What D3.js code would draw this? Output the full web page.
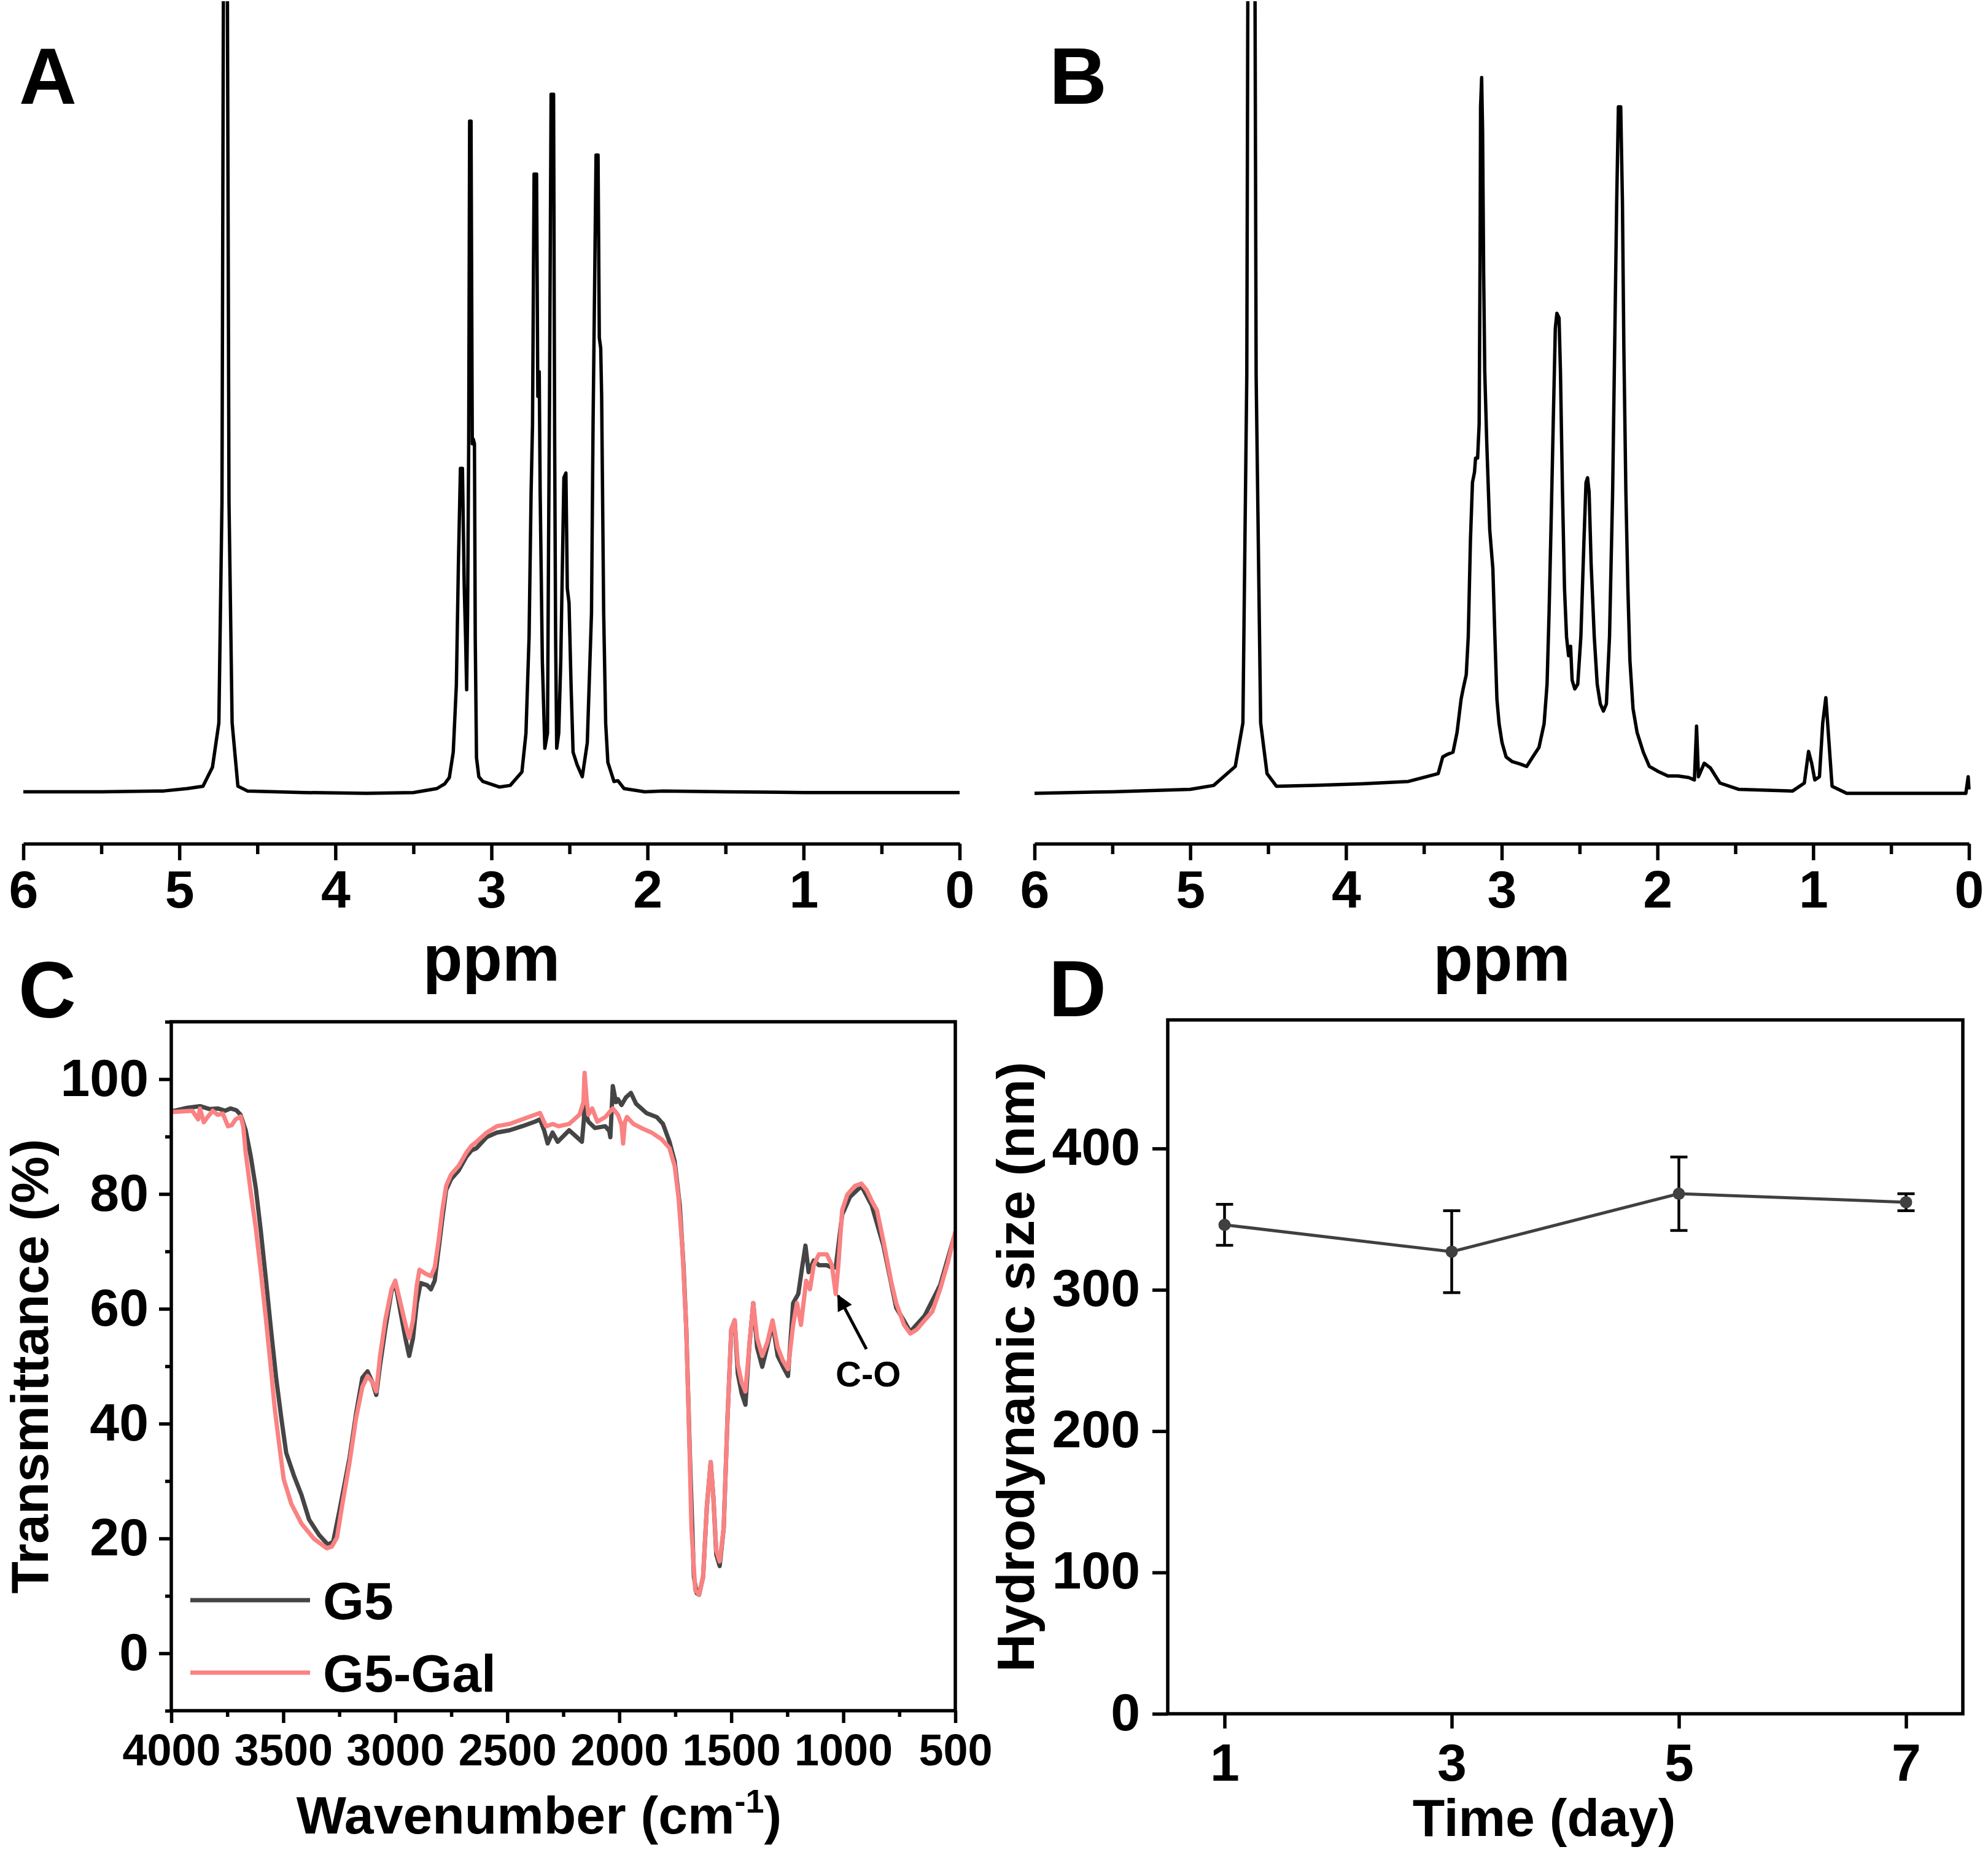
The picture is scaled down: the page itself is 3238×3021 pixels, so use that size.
<!DOCTYPE html>
<html>
<head>
<meta charset="utf-8">
<script src="https://cdn.jsdelivr.net/npm/d3@7"></script>
<style>
  body { margin: 0; background: #fff; }
  svg { display: block; font-family: "Liberation Sans", Arial, sans-serif; font-weight: bold; }
</style>
</head>
<body>
<div id="chart"></div>
<script>
// ---- data ----
const ppmTicks = [6, 5, 4, 3, 2, 1, 0];
const ppmMinor = [5.5, 4.5, 3.5, 2.5, 1.5, 0.5];

// panel A: 1H NMR trace [ppm, relative intensity]
const nmrA = [
  [6.0, 0.2], [5.5, 0.2], [5.1, 0.3], [4.95, 0.6], [4.849, 0.9], [4.788, 3.3], [4.747, 8.9],
  [4.727, 36.8], [4.711, 150], [4.700, 150], [4.682, 36.8], [4.662, 8.9], [4.625, 0.9],
  [4.564, 0.3], [4.2, 0.1], [3.8, 0.0], [3.5, 0.1], [3.35, 0.6], [3.30, 1.2], [3.27, 2.0],
  [3.245, 5.2], [3.225, 13.7], [3.212, 28.9], [3.199, 41.1], [3.186, 41.1], [3.175, 26.5],
  [3.166, 19.7], [3.159, 13.1], [3.153, 22.8], [3.146, 44.2], [3.140, 85.0], [3.131, 85.0],
  [3.123, 44.2], [3.117, 44.8], [3.109, 44.2], [3.104, 19.7], [3.096, 4.5], [3.081, 2.1],
  [3.055, 1.5], [2.95, 0.8], [2.88, 1.0], [2.805, 2.7], [2.779, 7.6], [2.759, 19.8],
  [2.746, 38.1], [2.737, 46.6], [2.727, 78.3], [2.711, 78.3], [2.703, 50.2], [2.694, 53.3],
  [2.688, 38.1], [2.674, 16.7], [2.658, 5.7], [2.641, 7.6], [2.634, 32.0], [2.628, 50.2],
  [2.618, 88.4], [2.602, 88.4], [2.595, 44.2], [2.589, 19.8], [2.582, 5.7], [2.569, 7.6],
  [2.556, 16.7], [2.547, 27.1], [2.536, 39.9], [2.523, 40.5], [2.514, 25.9], [2.503, 24.1],
  [2.490, 13.7], [2.477, 5.2], [2.451, 3.6], [2.418, 2.1], [2.386, 6.4], [2.359, 22.8],
  [2.349, 46.6], [2.340, 62.5], [2.330, 80.7], [2.317, 80.7], [2.309, 57.6], [2.300, 56.3],
  [2.294, 50.2], [2.281, 22.8], [2.268, 8.8], [2.254, 3.9], [2.215, 1.5], [2.19, 1.6],
  [2.150, 0.6], [2.018, 0.2], [1.9, 0.3], [1.5, 0.2], [1.0, 0.1], [0.5, 0.1], [0.0, 0.1]
];

// panel B: 1H NMR trace [ppm, relative intensity]
const nmrB = [
  [6.0, 0.0], [5.5, 0.2], [5.0, 0.5], [4.85, 1.0], [4.711, 3.4], [4.662, 8.9], [4.637, 52.9],
  [4.625, 140], [4.590, 140], [4.577, 52.9], [4.548, 8.9], [4.507, 2.5], [4.447, 0.9],
  [4.2, 1.0], [3.9, 1.2], [3.6, 1.5], [3.408, 2.5], [3.379, 4.6], [3.352, 4.9], [3.313, 5.2],
  [3.287, 7.7], [3.261, 11.9], [3.248, 13.2], [3.228, 15.0], [3.215, 19.8], [3.201, 32.0],
  [3.188, 39.3], [3.175, 40.6], [3.168, 42.4], [3.155, 42.4], [3.145, 46.7], [3.139, 68.6],
  [3.136, 86.8], [3.129, 90.5], [3.123, 83.8], [3.116, 65.5], [3.109, 53.3], [3.096, 44.2],
  [3.077, 33.3], [3.057, 28.4], [3.044, 19.8], [3.031, 11.9], [3.017, 8.8], [2.998, 6.4],
  [2.972, 4.6], [2.932, 4.0], [2.880, 3.7], [2.840, 3.4], [2.801, 4.6], [2.761, 5.8],
  [2.728, 8.8], [2.709, 13.8], [2.696, 22.9], [2.682, 35.1], [2.669, 47.2], [2.656, 58.8],
  [2.646, 60.7], [2.632, 60.1], [2.623, 53.3], [2.610, 38.1], [2.597, 25.9], [2.584, 19.8],
  [2.571, 17.4], [2.558, 18.6], [2.548, 14.3], [2.531, 13.2], [2.512, 13.8], [2.492, 19.8],
  [2.472, 32.0], [2.459, 39.3], [2.449, 39.9], [2.439, 38.1], [2.426, 29.0], [2.406, 19.8],
  [2.387, 13.8], [2.367, 11.3], [2.347, 10.4], [2.328, 11.3], [2.308, 19.8], [2.288, 38.1],
  [2.275, 56.4], [2.262, 74.7], [2.251, 86.8], [2.236, 86.8], [2.225, 74.7], [2.216, 56.4],
  [2.203, 38.1], [2.190, 25.9], [2.177, 16.8], [2.157, 10.7], [2.131, 7.7], [2.091, 5.2],
  [2.052, 3.4], [1.999, 2.8], [1.933, 2.2], [1.868, 2.2], [1.80, 2.0], [1.763, 1.7],
  [1.749, 8.5], [1.737, 2.1], [1.700, 3.8], [1.660, 3.2], [1.599, 1.3], [1.477, 0.5],
  [1.132, 0.3], [1.057, 1.3], [1.030, 5.3], [1.010, 3.8], [0.990, 1.7], [0.960, 2.1],
  [0.939, 8.9], [0.919, 12.1], [0.899, 6.5], [0.879, 0.9], [0.785, 0.0], [0.3, 0.0],
  [0.02, 0.0], [0.005, 2.1], [0.0, 0.5]
];

// panel C: FTIR [wavenumber, transmittance %]
const wnTicks = [4000, 3500, 3000, 2500, 2000, 1500, 1000, 500];
const wnMinor = [3750, 3250, 2750, 2250, 1750, 1250, 750];
const transTicks = [0, 20, 40, 60, 80, 100];
const transMinor = [-10, 10, 30, 50, 70, 90, 110];

const irG5 = [
  [4000, 94.5], [3985, 94.5], [3930, 95.0], [3872, 95.3], [3830, 94.8], [3793, 94.9],
  [3760, 94.5], [3736, 94.9], [3710, 94.6], [3691, 93.8], [3668, 91.1], [3645, 86.5],
  [3623, 81.1], [3600, 73.4], [3577, 64.9], [3555, 56.4], [3532, 48.0], [3509, 41.0],
  [3487, 34.9], [3453, 31.0], [3419, 27.6], [3385, 23.3], [3340, 20.6], [3300, 18.9],
  [3277, 19.5], [3249, 24.9], [3204, 34.1], [3175, 41.8], [3147, 48.0], [3124, 49.1],
  [3102, 47.2], [3085, 45.0], [3068, 50.2], [3045, 56.4], [3017, 63.0], [3000, 64.5],
  [2977, 59.5], [2955, 54.9], [2938, 51.8], [2921, 54.9], [2904, 61.0], [2887, 64.5],
  [2858, 64.1], [2841, 63.4], [2824, 64.9], [2807, 70.3], [2790, 75.7], [2773, 80.7],
  [2751, 82.6], [2717, 84.1], [2683, 86.5], [2660, 87.6], [2637, 88.0], [2592, 89.9],
  [2547, 90.7], [2490, 91.1], [2434, 91.8], [2377, 92.6], [2354, 93.0], [2335, 91.0],
  [2320, 88.8], [2298, 90.7], [2275, 89.1], [2224, 91.1], [2167, 89.1], [2158, 93.0],
  [2155, 100.3], [2150, 94.0], [2138, 92.6], [2109, 91.5], [2063, 91.8], [2045, 91.0],
  [2040, 89.9], [2029, 98.8], [2015, 96.0], [2006, 96.5], [1990, 95.5], [1971, 96.8],
  [1948, 97.6], [1925, 95.7], [1879, 94.1], [1833, 93.4], [1805, 92.2], [1776, 89.1],
  [1753, 85.7], [1730, 78.0], [1713, 67.2], [1701, 56.4], [1684, 33.3], [1667, 13.3],
  [1655, 10.5], [1644, 10.2], [1626, 13.3], [1609, 25.6], [1592, 33.3], [1580, 27.2],
  [1567, 17.2], [1552, 15.2], [1534, 21.8], [1517, 41.0], [1500, 56.4], [1485, 58.0],
  [1471, 48.7], [1454, 45.3], [1437, 43.3], [1420, 53.3], [1402, 61.0], [1385, 53.3],
  [1362, 49.9], [1339, 53.5], [1316, 57.5], [1293, 51.8], [1270, 50.0], [1247, 48.3],
  [1224, 61.0], [1201, 62.6], [1184, 67.2], [1169, 71.0], [1155, 66.4], [1132, 68.4],
  [1109, 67.6], [1074, 67.6], [1051, 67.2], [1034, 67.2], [1005, 76.4], [970, 79.5],
  [919, 81.4], [873, 78.0], [821, 71.0], [764, 60.2], [729, 57.9], [701, 56.0],
  [637, 58.8], [568, 64.1], [505, 72.6], [500, 73.0]
];

const irG5Gal = [
  [4000, 94.3], [3985, 94.3], [3906, 94.5], [3880, 93.0], [3872, 94.9], [3855, 92.5],
  [3838, 93.4], [3815, 94.5], [3793, 93.8], [3770, 94.0], [3747, 91.8], [3730, 92.0],
  [3713, 93.0], [3690, 93.5], [3679, 91.8], [3668, 87.2], [3645, 80.3], [3623, 74.1],
  [3600, 66.4], [3577, 58.0], [3555, 49.5], [3538, 42.6], [3521, 37.2], [3498, 30.3],
  [3464, 26.0], [3419, 22.6], [3362, 19.9], [3306, 18.3], [3283, 18.6], [3260, 20.2],
  [3238, 25.6], [3204, 33.3], [3175, 41.0], [3147, 46.4], [3124, 48.3], [3102, 47.2],
  [3085, 45.6], [3068, 51.8], [3045, 58.0], [3017, 63.4], [3000, 64.9], [2977, 61.0],
  [2949, 56.4], [2938, 54.9], [2921, 58.0], [2904, 64.1], [2892, 66.8], [2864, 66.1],
  [2841, 65.7], [2824, 67.2], [2807, 71.8], [2790, 77.2], [2773, 81.4], [2751, 83.4],
  [2717, 84.9], [2683, 87.2], [2660, 88.4], [2637, 89.1], [2592, 90.7], [2547, 91.8],
  [2490, 92.2], [2434, 93.0], [2377, 93.8], [2354, 94.1], [2335, 92.5], [2326, 91.8],
  [2298, 92.2], [2270, 91.8], [2224, 92.2], [2178, 93.8], [2160, 96.0], [2155, 101.1],
  [2146, 96.5], [2138, 93.8], [2121, 94.9], [2098, 92.6], [2063, 93.4], [2029, 94.9],
  [2006, 93.8], [1990, 92.0], [1983, 88.8], [1975, 92.5], [1966, 93.4], [1937, 92.2],
  [1902, 91.5], [1856, 90.7], [1810, 89.5], [1776, 88.0], [1753, 84.9], [1736, 79.5],
  [1718, 70.3], [1701, 56.4], [1690, 41.0], [1678, 21.8], [1661, 11.0], [1644, 10.2],
  [1626, 13.3], [1609, 25.6], [1592, 33.3], [1580, 27.2], [1567, 17.9], [1552, 16.0],
  [1534, 21.8], [1517, 41.0], [1500, 56.4], [1485, 58.0], [1471, 50.3], [1454, 47.2],
  [1437, 45.6], [1420, 53.3], [1402, 61.0], [1385, 54.9], [1362, 51.8], [1339, 54.2],
  [1316, 58.0], [1293, 53.3], [1270, 51.0], [1247, 49.5], [1224, 57.2], [1207, 61.0],
  [1189, 57.2], [1166, 64.9], [1149, 63.4], [1132, 67.6], [1109, 69.5], [1074, 69.5],
  [1051, 67.6], [1034, 62.6], [1023, 67.2], [1005, 77.2], [982, 79.9], [948, 81.4],
  [919, 81.8], [896, 80.7], [873, 78.8], [850, 77.2], [821, 71.8], [787, 64.9],
  [764, 61.0], [729, 57.2], [701, 55.7], [672, 56.4], [637, 58.0], [603, 59.5],
  [568, 63.4], [534, 68.0], [505, 72.6], [500, 73.5]
];
const irSeries = ["G5", "G5-Gal"];
const irColors = ["#454545", "#fa8282"];
const annotCO = { wn: 1034, t: 62.6, label: "C-O" };

// panel D: hydrodynamic size over time
const days = [1, 3, 5, 7];
const sizeMean = [346, 327, 368, 362];
const sizeErr = [14.5, 29, 26, 6];
const sizeTicks = [0, 100, 200, 300, 400];

// ---- drawing ----
const W = 3238, H = 3021;
const svg = d3.select("#chart").append("svg")
    .attr("width", W).attr("height", H);
svg.append("rect").attr("width", W).attr("height", H).attr("fill", "#fff");

const axisW = 5.5;

function styleAxis(g, fontSize) {
    g.select(".domain").attr("stroke", "#000").attr("stroke-width", axisW);
    g.selectAll(".tick line").attr("stroke", "#000").attr("stroke-width", axisW);
    g.selectAll(".tick text").attr("fill", "#000")
        .attr("font-size", fontSize).attr("font-weight", "bold")
        .attr("font-family", "'Liberation Sans', Arial, sans-serif");
}

// NMR panels (A and B)
function nmrPanel(data, x0, x1, label, labelX) {
    const x = d3.scaleLinear().domain([6, 0]).range([x0, x1]);
    const y = d3.scaleLinear().domain([0, 100]).range([1292, 4]);
    const axisY = 1374;
    const g = svg.append("g");
    const clipId = "clip" + label;
    svg.append("clipPath").attr("id", clipId)
        .append("rect").attr("x", x0 - 10).attr("y", 2).attr("width", x1 - x0 + 20).attr("height", axisY - 12);

    g.append("path").datum(data)
        .attr("clip-path", `url(#${clipId})`)
        .attr("fill", "none").attr("stroke", "#000").attr("stroke-width", 5.5)
        .attr("stroke-linejoin", "round")
        .attr("d", d3.line().x(d => x(d[0])).y(d => y(d[1])));

    const minor = g.append("g").attr("transform", `translate(0,${axisY})`)
        .call(d3.axisBottom(x).tickValues(ppmMinor).tickSize(17).tickFormat(""));
    minor.select(".domain").remove();
    styleAxis(minor, 0);

    const ax = g.append("g").attr("transform", `translate(0,${axisY})`)
        .call(d3.axisBottom(x).tickValues(ppmTicks).tickSize(27).tickSizeOuter(0).tickFormat(d3.format("d")));
    styleAxis(ax, 86);
    ax.selectAll(".tick text").attr("y", 104).attr("dy", null);

    g.append("text").attr("x", (x0 + x1) / 2).attr("y", 1597)
        .attr("text-anchor", "middle").attr("font-size", 106).text("ppm");
    g.append("text").attr("x", labelX).attr("y", 169).attr("font-size", 130).text(label);
}
nmrPanel(nmrA, 38, 1563, "A", 31);
nmrPanel(nmrB, 1685, 3207, "B", 1709);

// FTIR panel (C)
(function () {
    const L = 279, R = 1556, T = 1664, B = 2786;
    const x = d3.scaleLinear().domain([4000, 500]).range([L, R]);
    const y = d3.scaleLinear().domain([-10, 110]).range([B, T]);
    const g = svg.append("g");

    svg.append("clipPath").attr("id", "clipC")
        .append("rect").attr("x", L).attr("y", T).attr("width", R - L).attr("height", B - T);

    const line = d3.line().x(d => x(d[0])).y(d => y(d[1]));
    [irG5, irG5Gal].forEach((s, i) => {
        g.append("path").datum(s)
            .attr("clip-path", "url(#clipC)")
            .attr("fill", "none").attr("stroke", irColors[i]).attr("stroke-width", 7)
            .attr("stroke-linejoin", "round")
            .attr("d", line);
    });

    g.append("rect").attr("x", L).attr("y", T).attr("width", R - L).attr("height", B - T)
        .attr("fill", "none").attr("stroke", "#000").attr("stroke-width", axisW);

    const ym = g.append("g").attr("transform", `translate(${L},0)`)
        .call(d3.axisLeft(y).tickValues(transMinor).tickSize(10).tickFormat(""));
    ym.select(".domain").remove();
    styleAxis(ym, 0);
    const ya = g.append("g").attr("transform", `translate(${L},0)`)
        .call(d3.axisLeft(y).tickValues(transTicks).tickSize(20).tickSizeOuter(0));
    ya.select(".domain").remove();
    styleAxis(ya, 86);
    ya.selectAll(".tick text").attr("x", -37).attr("y", 27).attr("dy", null);

    const xm = g.append("g").attr("transform", `translate(0,${B})`)
        .call(d3.axisBottom(x).tickValues(wnMinor).tickSize(10).tickFormat(""));
    xm.select(".domain").remove();
    styleAxis(xm, 0);
    const xa = g.append("g").attr("transform", `translate(0,${B})`)
        .call(d3.axisBottom(x).tickValues(wnTicks).tickSize(20).tickSizeOuter(0).tickFormat(d3.format("d")));
    xa.select(".domain").remove();
    styleAxis(xa, 72);
    xa.selectAll(".tick text").attr("y", 89).attr("dy", null);

    // axis titles
    g.append("text").attr("transform", "translate(78,2225) rotate(-90)")
        .attr("text-anchor", "middle").attr("font-size", 86).text("Transmittance (%)");
    const xt = g.append("text").attr("x", 878).attr("y", 2986)
        .attr("text-anchor", "middle").attr("font-size", 86);
    xt.append("tspan").text("Wavenumber (cm");
    xt.append("tspan").attr("font-size", 54).attr("dy", -34).text("-1");
    xt.append("tspan").attr("dy", 34).text(")");

    // legend
    irSeries.forEach((name, i) => {
        const ly = 2606 + i * 118;
        g.append("line").attr("x1", 310).attr("x2", 505).attr("y1", ly).attr("y2", ly)
            .attr("stroke", irColors[i]).attr("stroke-width", 7);
        g.append("text").attr("x", 526).attr("y", ly + 31).attr("font-size", 86).text(name);
    });

    // C-O annotation
    const defs = svg.append("defs");
    defs.append("marker").attr("id", "arrowHead")
        .attr("viewBox", "0 0 10 10").attr("refX", 9).attr("refY", 5)
        .attr("markerUnits", "userSpaceOnUse").attr("markerWidth", 30).attr("markerHeight", 26)
        .attr("orient", "auto")
        .append("path").attr("d", "M0,0L10,5L0,10z").attr("fill", "#000");
    const tipX = x(annotCO.wn) + 4, tipY = y(annotCO.t) + 3;
    g.append("line").attr("x1", tipX + 46).attr("y1", tipY + 87).attr("x2", tipX).attr("y2", tipY)
        .attr("stroke", "#000").attr("stroke-width", 5).attr("marker-end", "url(#arrowHead)");
    g.append("text").attr("x", tipX + 49).attr("y", tipY + 148)
        .attr("text-anchor", "middle").attr("font-size", 58).text(annotCO.label);

    g.append("text").attr("x", 30).attr("y", 1657).attr("font-size", 130).text("C");
})();

// DLS panel (D)
(function () {
    const L = 1902, R = 3197, T = 1661, B = 2791;
    const x = d3.scaleLinear().domain([0.5, 7.5]).range([L, R]);
    const y = d3.scaleLinear().domain([0, 491]).range([B, T]);
    const g = svg.append("g");
    const pts = days.map((d, i) => ({ day: d, v: sizeMean[i], e: sizeErr[i] }));

    g.append("rect").attr("x", L).attr("y", T).attr("width", R - L).attr("height", B - T)
        .attr("fill", "none").attr("stroke", "#000").attr("stroke-width", axisW);

    const ya = g.append("g").attr("transform", `translate(${L},0)`)
        .call(d3.axisLeft(y).tickValues(sizeTicks).tickSize(25).tickSizeOuter(0));
    ya.select(".domain").remove();
    styleAxis(ya, 86);
    ya.selectAll(".tick text").attr("x", -45).attr("y", 26).attr("dy", null);

    const xa = g.append("g").attr("transform", `translate(0,${B})`)
        .call(d3.axisBottom(x).tickValues(days).tickSize(24).tickSizeOuter(0).tickFormat(d3.format("d")));
    xa.select(".domain").remove();
    styleAxis(xa, 86);
    xa.selectAll(".tick text").attr("y", 109).attr("dy", null);

    // error bars
    const eb = g.selectAll(".eb").data(pts).enter().append("g").attr("class", "eb")
        .attr("stroke", "#000").attr("stroke-width", 4.5);
    eb.append("line").attr("x1", d => x(d.day)).attr("x2", d => x(d.day))
        .attr("y1", d => y(d.v - d.e)).attr("y2", d => y(d.v + d.e));
    eb.append("line").attr("x1", d => x(d.day) - 14).attr("x2", d => x(d.day) + 14)
        .attr("y1", d => y(d.v + d.e)).attr("y2", d => y(d.v + d.e));
    eb.append("line").attr("x1", d => x(d.day) - 14).attr("x2", d => x(d.day) + 14)
        .attr("y1", d => y(d.v - d.e)).attr("y2", d => y(d.v - d.e));

    g.append("path").datum(pts)
        .attr("fill", "none").attr("stroke", "#404040").attr("stroke-width", 5)
        .attr("d", d3.line().x(d => x(d.day)).y(d => y(d.v)));

    g.selectAll(".pt").data(pts).enter().append("circle").attr("class", "pt")
        .attr("cx", d => x(d.day)).attr("cy", d => y(d.v)).attr("r", 10)
        .attr("fill", "#404040");

    g.append("text").attr("transform", "translate(1684,2226) rotate(-90)")
        .attr("text-anchor", "middle").attr("font-size", 86).text("Hydrodynamic size (nm)");
    g.append("text").attr("x", 2515).attr("y", 2990)
        .attr("text-anchor", "middle").attr("font-size", 86).text("Time (day)");

    g.append("text").attr("x", 1708).attr("y", 1655).attr("font-size", 130).text("D");
})();
</script>
</body>
</html>
